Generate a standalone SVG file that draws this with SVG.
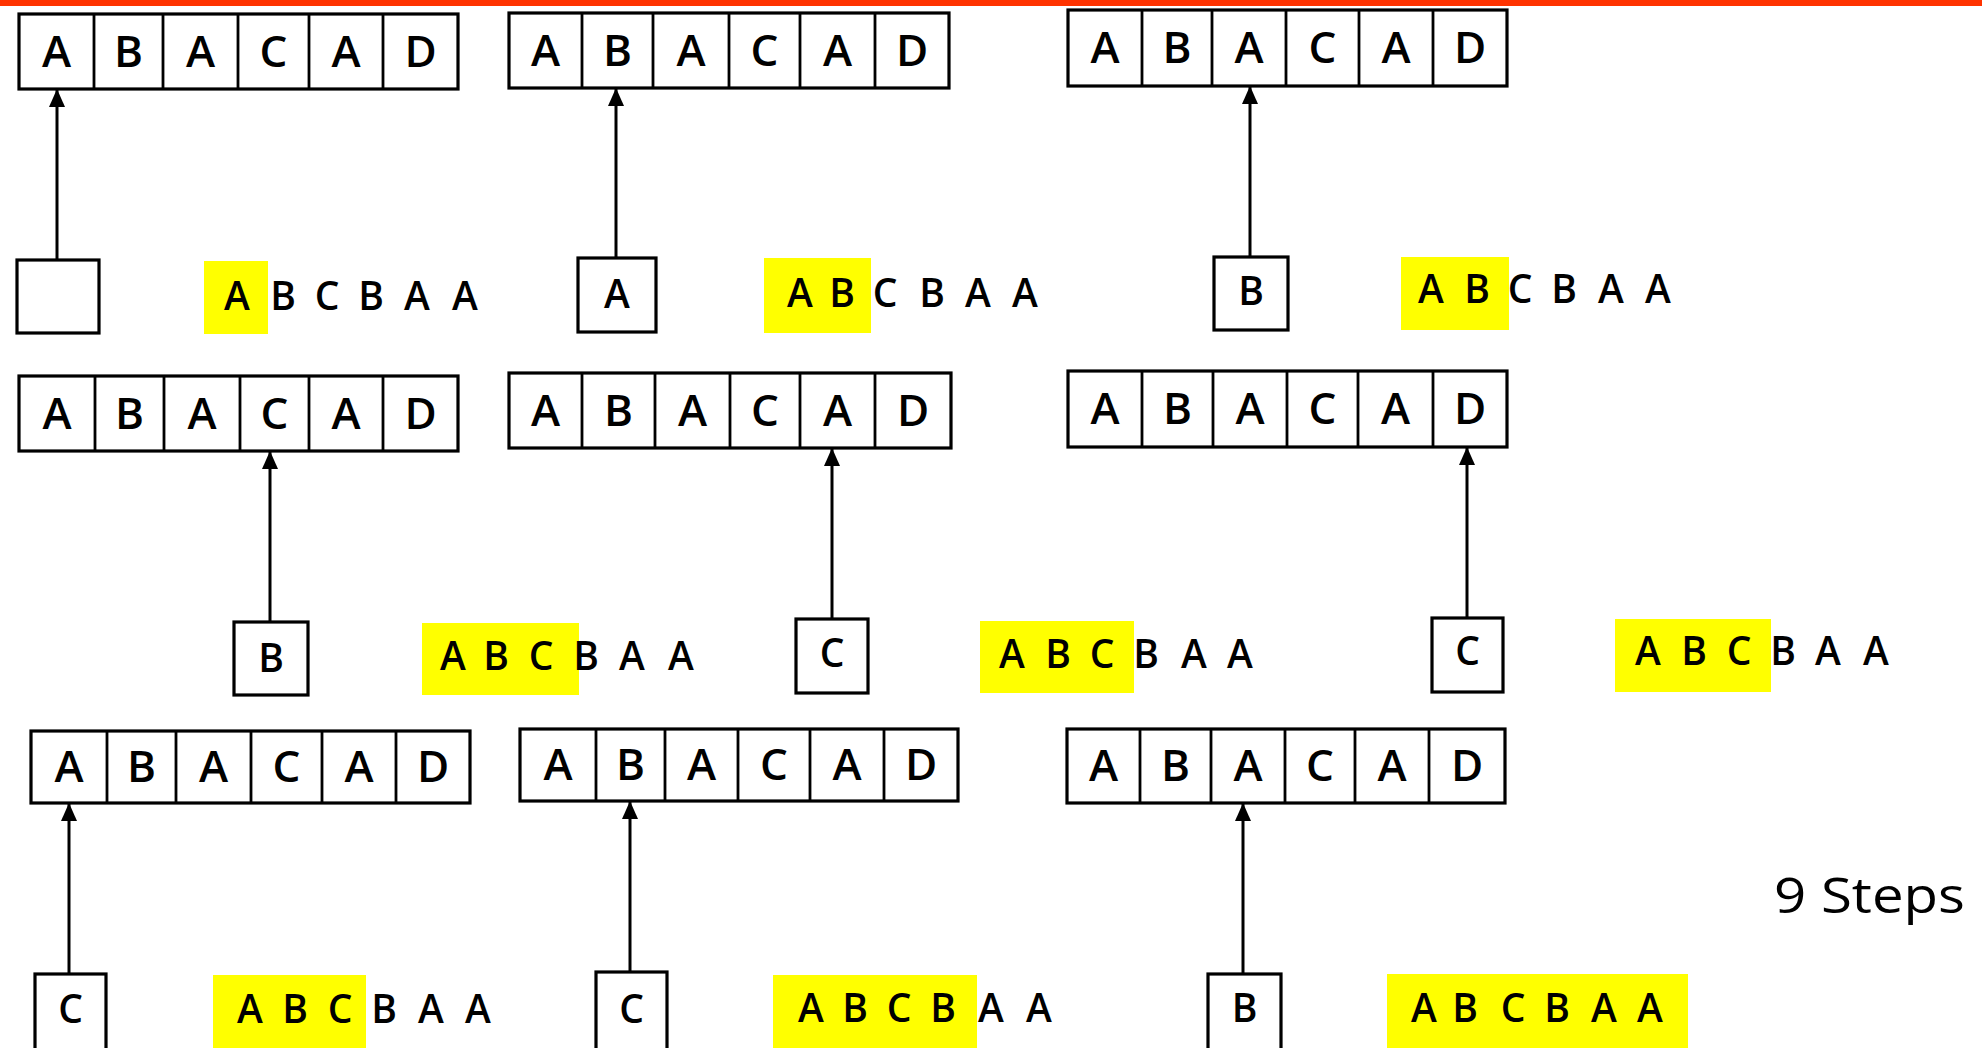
<svg xmlns="http://www.w3.org/2000/svg" width="1982" height="1048" viewBox="0 0 1982 1048">
<style>
.bg{fill:#fff}
.arr{fill:#fff;stroke:#000;stroke-width:3.2}
.dv{stroke:#000;stroke-width:2.8}
.ptr{fill:#fff;stroke:#000;stroke-width:3.2}
.hl{fill:#FFFF00}
.t{font-family:"Open Sans","DejaVu Sans","Liberation Sans",sans-serif;font-weight:600;fill:#000;text-anchor:middle}
.c{font-size:44px}
.s{font-size:39px}
.p{font-size:39px}
.conn{stroke:#000;stroke-width:3;fill:none;marker-end:url(#ah)}
</style>
<defs>
<marker id="ah" markerUnits="userSpaceOnUse" markerWidth="18" markerHeight="18" refX="17" refY="9" orient="auto" viewBox="0 0 18 18">
<path d="M0,1 L18,9 L0,17 z" fill="#000"/>
</marker>
</defs>
<rect class="bg" x="0" y="0" width="1982" height="1048"/>
<rect x="0" y="0" width="1982" height="6" fill="#FF3300"/>

<g id="step1">
<rect class="arr" x="19" y="14" width="439" height="75"/>
<path class="dv" d="M94 14V89M163 14V89M238 14V89M309 14V89M383 14V89"/>
<text class="t c" x="56.5 128.5 200.5 273.5 346 420.5" y="67">ABACAD</text>
<rect class="ptr" x="17" y="260" width="82" height="73"/>
<rect class="hl" x="204" y="261" width="64" height="73"/>
<text class="t s" x="237 260 283 305 327 349 371 394 417 441 465" y="310">A B C B A A</text>
</g>

<g id="step2">
<rect class="arr" x="509" y="13" width="440" height="75"/>
<path class="dv" d="M582 13V88M653 13V88M729 13V88M800 13V88M875 13V88"/>
<text class="t c" x="545.5 617.5 691 764.5 837.5 912" y="66">ABACAD</text>
<rect class="ptr" x="578" y="258" width="78" height="74"/>
<text class="t p" x="617" y="308">A</text>
<rect class="hl" x="764" y="258" width="107" height="75"/>
<text class="t s" x="800 821 842 864 885 908 932 955 978 1001 1025" y="307">A B C B A A</text>
</g>

<g id="step3">
<rect class="arr" x="1068" y="10" width="439" height="76"/>
<path class="dv" d="M1142 10V86M1212 10V86M1286 10V86M1359 10V86M1433 10V86"/>
<text class="t c" x="1105 1177 1249 1322.5 1396 1470" y="63">ABACAD</text>
<rect class="ptr" x="1214" y="257" width="74" height="73"/>
<text class="t p" x="1251" y="305">B</text>
<rect class="hl" x="1401" y="257" width="108" height="73"/>
<text class="t s" x="1431 1454 1477 1498 1520 1542 1564 1587 1611 1634 1658" y="303">A B C B A A</text>
</g>

<g id="step4">
<rect class="arr" x="19" y="376" width="439" height="75"/>
<path class="dv" d="M95 376V451M164 376V451M240 376V451M309 376V451M383 376V451"/>
<text class="t c" x="57 129.5 202 274.5 346 420.5" y="429">ABACAD</text>
<rect class="ptr" x="234" y="622" width="74" height="73"/>
<text class="t p" x="271" y="672">B</text>
<rect class="hl" x="422" y="623" width="157" height="72"/>
<text class="t s" x="453 474 496 518 541 563 586 609 632 656 681" y="670">A B C B A A</text>
</g>

<g id="step5">
<rect class="arr" x="509" y="373" width="442" height="75"/>
<path class="dv" d="M582 373V448M655 373V448M730 373V448M800 373V448M875 373V448"/>
<text class="t c" x="545.5 618.5 692.5 765 837.5 913" y="426">ABACAD</text>
<rect class="ptr" x="796" y="619" width="72" height="74"/>
<text class="t p" x="832" y="667">C</text>
<rect class="hl" x="980" y="621" width="154" height="72"/>
<text class="t s" x="1012 1035 1058 1080 1102 1124 1146 1170 1194 1217 1240" y="668">A B C B A A</text>
</g>

<g id="step6">
<rect class="arr" x="1068" y="371" width="439" height="76"/>
<path class="dv" d="M1142 371V447M1213 371V447M1287 371V447M1358 371V447M1433 371V447"/>
<text class="t c" x="1105 1177.5 1250 1322.5 1395.5 1470" y="424">ABACAD</text>
<rect class="ptr" x="1432" y="618" width="71" height="74"/>
<text class="t p" x="1467.5" y="665">C</text>
<rect class="hl" x="1615" y="619" width="156" height="73"/>
<text class="t s" x="1648 1671 1694 1716 1739 1761 1783 1806 1828 1852 1876" y="665">A B C B A A</text>
</g>

<g id="step7">
<rect class="arr" x="31" y="731" width="439" height="72"/>
<path class="dv" d="M107 731V803M176 731V803M251 731V803M322 731V803M396 731V803"/>
<text class="t c" x="69 141.5 213.5 286.5 359 433" y="782">ABACAD</text>
<rect class="ptr" x="35" y="974" width="71" height="76"/>
<text class="t p" x="70.5" y="1023">C</text>
<rect class="hl" x="213" y="975" width="153" height="73"/>
<text class="t s" x="250 272 295 317 340 362 384 407 431 454 478" y="1023">A B C B A A</text>
</g>

<g id="step8">
<rect class="arr" x="520" y="729" width="438" height="72"/>
<path class="dv" d="M596 729V801M665 729V801M738 729V801M810 729V801M884 729V801"/>
<text class="t c" x="558 630.5 701.5 774 847 921" y="780">ABACAD</text>
<rect class="ptr" x="596" y="972" width="71" height="78"/>
<text class="t p" x="631.5" y="1023">C</text>
<rect class="hl" x="773" y="975" width="204" height="73"/>
<text class="t s" x="811 833 855 877 899 921 943 967 991 1015 1039" y="1022">A B C B A A</text>
</g>

<g id="step9">
<rect class="arr" x="1067" y="729" width="438" height="74"/>
<path class="dv" d="M1140 729V803M1211 729V803M1285 729V803M1355 729V803M1429 729V803"/>
<text class="t c" x="1103.5 1175.5 1248 1320 1392 1467" y="781">ABACAD</text>
<rect class="ptr" x="1208" y="974" width="73" height="76"/>
<text class="t p" x="1244.5" y="1022">B</text>
<rect class="hl" x="1387" y="974" width="301" height="74"/>
<text class="t s" x="1424 1444 1465 1489 1513 1535 1557 1581 1604 1627 1650" y="1022">A B C B A A</text>
</g>

<g id="label">
<text x="1774" y="913" font-family="Open Sans, DejaVu Sans, Liberation Sans, sans-serif" font-size="50" textLength="191" lengthAdjust="spacingAndGlyphs" fill="#000">9 Steps</text>
</g>

<g id="connectors">
<line class="conn" x1="57" y1="260" x2="57" y2="90"/>
<line class="conn" x1="616" y1="258" x2="616" y2="89"/>
<line class="conn" x1="1250" y1="257" x2="1250" y2="87"/>
<line class="conn" x1="270" y1="622" x2="270" y2="452"/>
<line class="conn" x1="832" y1="619" x2="832" y2="449"/>
<line class="conn" x1="1467" y1="618" x2="1467" y2="448"/>
<line class="conn" x1="69" y1="974" x2="69" y2="804"/>
<line class="conn" x1="630" y1="972" x2="630" y2="802"/>
<line class="conn" x1="1243" y1="974" x2="1243" y2="804"/>
</g>
</svg>
